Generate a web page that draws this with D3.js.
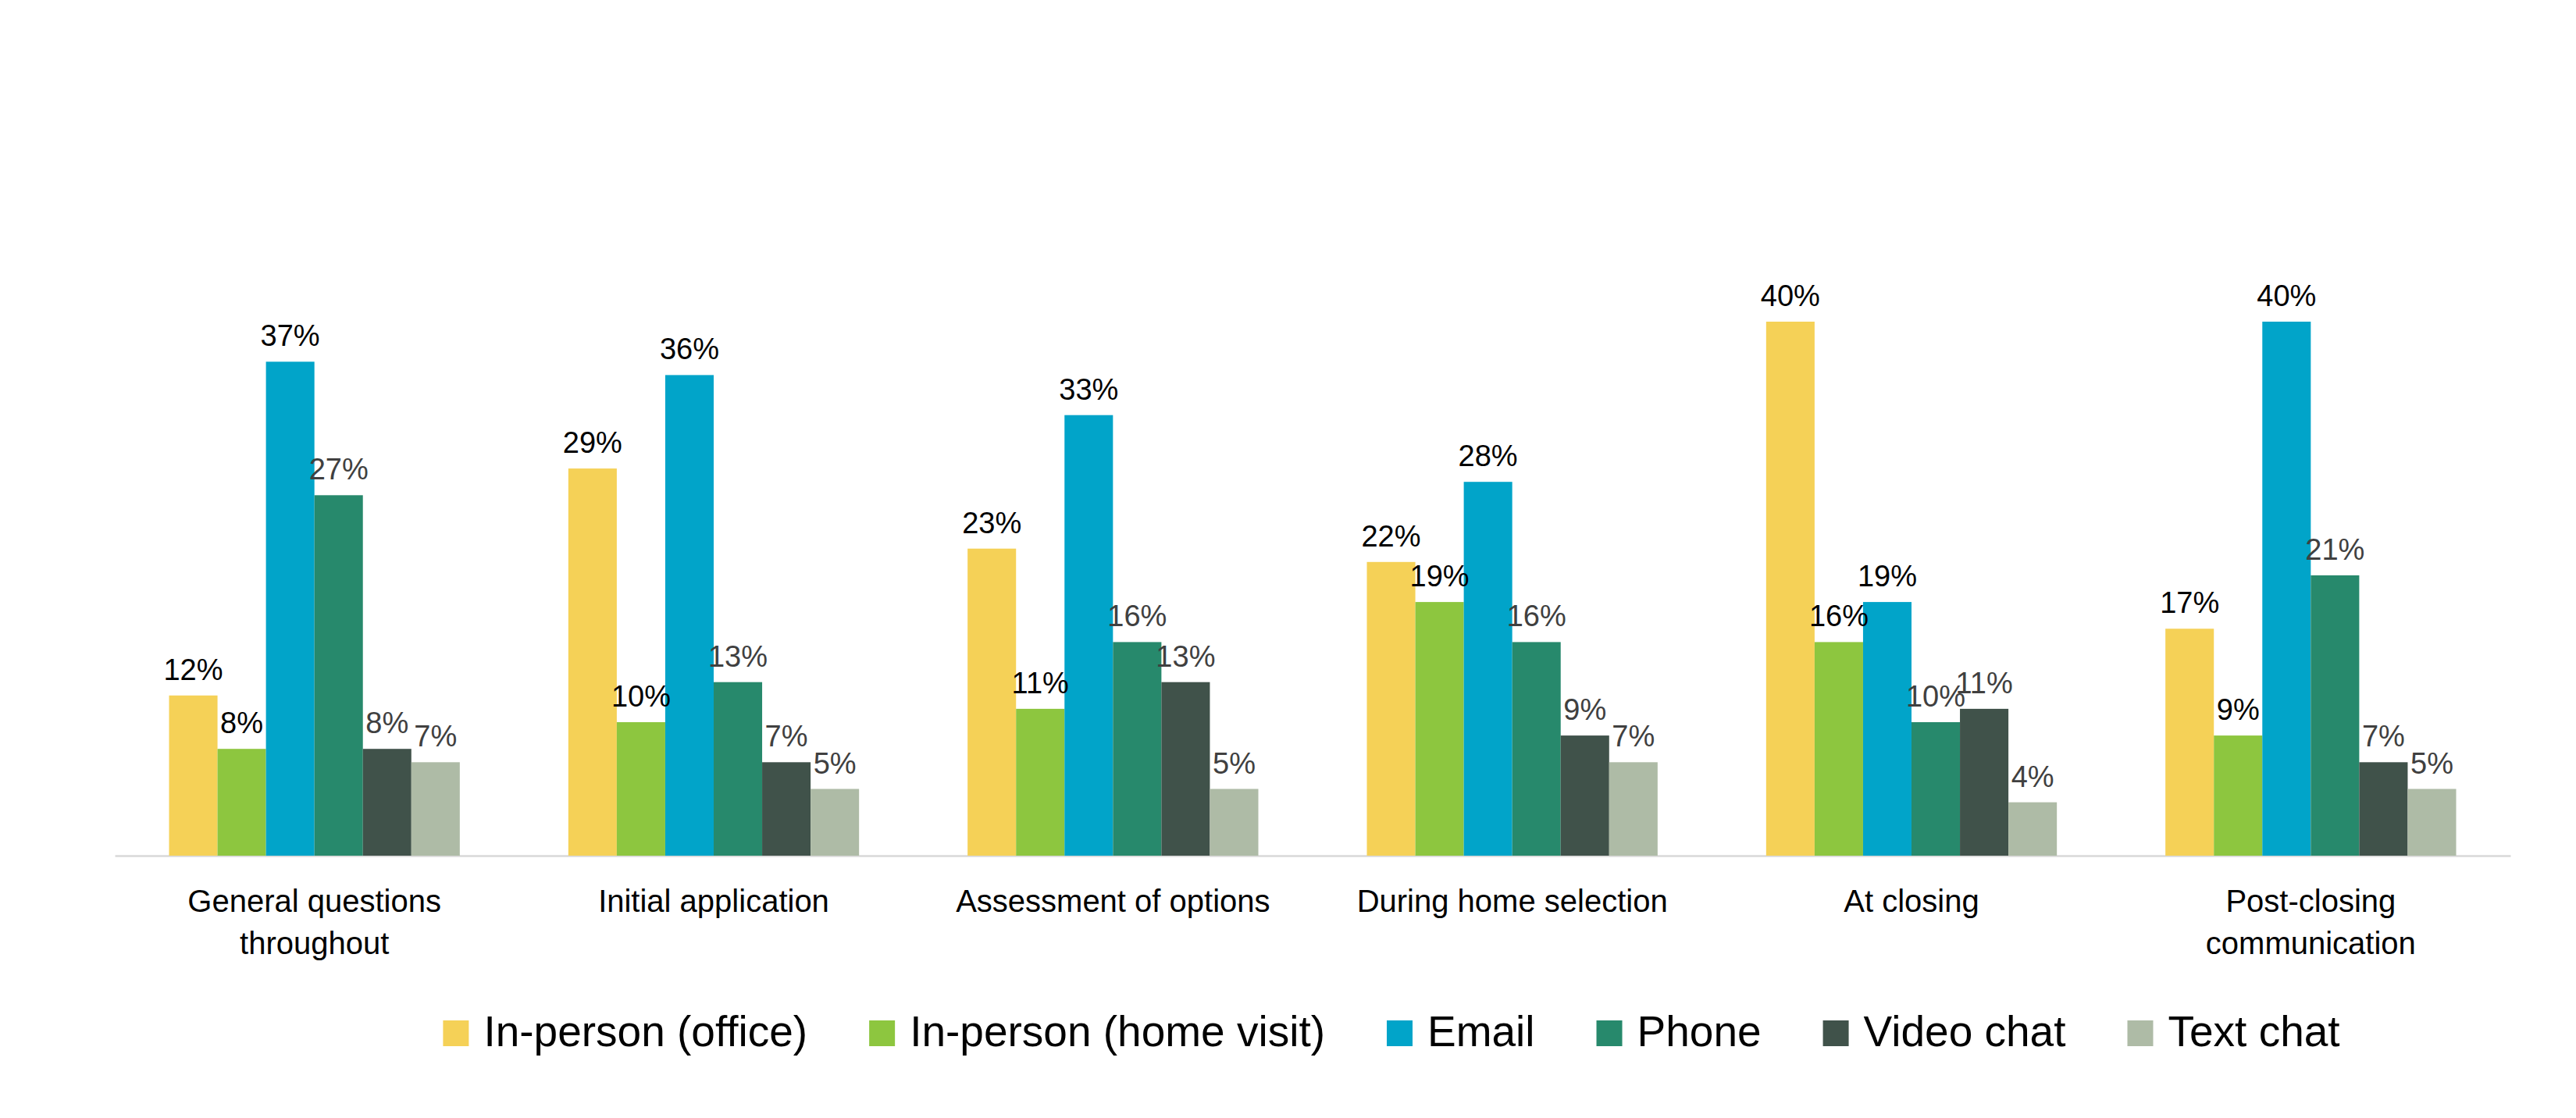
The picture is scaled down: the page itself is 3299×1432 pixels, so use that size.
<!DOCTYPE html>
<html>
<head>
<meta charset="utf-8">
<script src="https://cdn.jsdelivr.net/npm/d3@7"></script>
<style>
  html, body { margin: 0; padding: 0; background: #fff; }
  svg { display: block; }
</style>
</head>
<body>
<svg id="chart"></svg>
<script>
// Contact channel preference by stage (grouped bars)
const categories = [
  "General questions throughout",
  "Initial application",
  "Assessment of options",
  "During home selection",
  "At closing",
  "Post-closing communication"
];
// how the category labels wrap under the axis
const categoryLines = [
  ["General questions", "throughout"],
  ["Initial application"],
  ["Assessment of options"],
  ["During home selection"],
  ["At closing"],
  ["Post-closing", "communication"]
];
const seriesNames = ["In-person (office)", "In-person (home visit)", "Email", "Phone", "Video chat", "Text chat"];

const inPersonOffice = [12, 29, 23, 22, 40, 17];
const inPersonHome   = [8, 10, 11, 19, 16, 9];
const email          = [37, 36, 33, 28, 19, 40];
const phone          = [27, 13, 16, 16, 10, 21];
const videoChat      = [8, 7, 13, 9, 11, 7];
const textChat       = [7, 5, 5, 7, 4, 5];

const seriesValues = [inPersonOffice, inPersonHome, email, phone, videoChat, textChat];
const barColors   = ["#F5D157", "#8DC63F", "#01A4C9", "#27896C", "#40524A", "#AEBBA6"];
const labelColors = ["#000000", "#000000", "#000000", "#404040", "#404040", "#404040"];

const W = 3299, H = 1432;
const margin = { top: 241, right: 84, bottom: 336, left: 147 };
const innerW = W - margin.left - margin.right;
const innerH = H - margin.top - margin.bottom;

const svg = d3.select('#chart').attr('width', W).attr('height', H).attr('viewBox', `0 0 ${W} ${H}`);
svg.append('rect').attr('width', W).attr('height', H).attr('fill', '#fff');

const g = svg.append('g').attr('transform', `translate(${margin.left},${margin.top})`);

const x0 = d3.scaleBand().domain(categories).range([0, innerW]).padding(0);
const x1 = d3.scaleBand().domain(seriesNames).range([0, x0.bandwidth()]).paddingInner(0).paddingOuter(1.12);
const y = d3.scaleLinear().domain([0, 50]).range([innerH, 0]);

const font = "'Liberation Sans', Arial, sans-serif";

// flatten into rows for joining
const rows = [];
categories.forEach((c, i) => {
  seriesNames.forEach((s, j) => {
    rows.push({ cat: c, series: s, si: j, value: seriesValues[j][i] });
  });
});

// x axis (baseline + category labels)
const xAxis = g.append('g').attr('transform', `translate(0,${innerH})`)
  .call(d3.axisBottom(x0).tickSize(0).tickSizeOuter(0).tickFormat(''));
xAxis.select('.domain').attr('stroke', '#D9D9D9').attr('stroke-width', 2.5);

xAxis.selectAll('.tick').each(function (d, i) {
  const t = d3.select(this).append('text')
    .attr('fill', '#000')
    .attr('font-family', font)
    .attr('font-size', 40)
    .attr('text-anchor', 'middle');
  categoryLines[i].forEach((line, k) => {
    t.append('tspan').attr('x', 0).attr('y', 72 + k * 54).text(line);
  });
});

const groups = g.append('g').selectAll('g').data(categories).join('g')
  .attr('transform', d => `translate(${x0(d)},0)`);

groups.selectAll('rect').data(c => rows.filter(r => r.cat === c)).join('rect')
  .attr('x', d => x1(d.series))
  .attr('y', d => y(d.value))
  .attr('width', x1.bandwidth())
  .attr('height', d => innerH - y(d.value))
  .attr('fill', d => barColors[d.si]);

groups.selectAll('text.val').data(c => rows.filter(r => r.cat === c)).join('text')
  .attr('class', 'val')
  .attr('x', d => x1(d.series) + x1.bandwidth() / 2)
  .attr('y', d => y(d.value) - 20)
  .attr('text-anchor', 'middle')
  .attr('font-family', font)
  .attr('font-size', 38)
  .attr('fill', d => labelColors[d.si])
  .text(d => d.value + '%');

// legend, centred under the plot
const legend = svg.append('g').attr('transform', 'translate(0,1340)');
const items = legend.selectAll('g').data(seriesNames).join('g');
items.append('rect')
  .attr('y', -33).attr('width', 33).attr('height', 33)
  .attr('fill', (d, i) => barColors[i]);
items.append('text')
  .attr('x', 52)
  .attr('font-family', font)
  .attr('font-size', 55)
  .attr('fill', '#000')
  .text(d => d);

let widths = [];
items.each(function () { widths.push(52 + d3.select(this).select('text').node().getComputedTextLength()); });
const gap = 79;
const total = d3.sum(widths) + gap * (widths.length - 1);
let cx = 1782 - total / 2;
items.attr('transform', (d, i) => {
  const tx = cx;
  cx += widths[i] + gap;
  return `translate(${tx},0)`;
});
</script>
</body>
</html>
